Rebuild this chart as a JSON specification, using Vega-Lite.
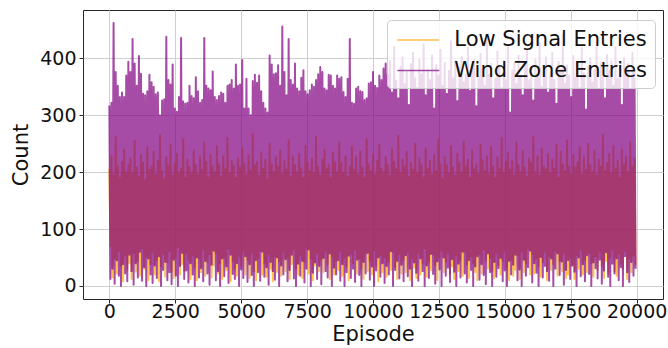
{
"$schema": "https://vega.github.io/schema/vega-lite/v6.json",
"width": 580, "height": 289,
"autosize": {"type": "none"},
"padding": {"left": 83, "top": 10, "right": 5, "bottom": 49},
"background": "white",
"config": {
  "font": "DejaVu Sans",
  "view": {"stroke": "#262626", "strokeWidth": 1},
  "axis": {"domain": false, "grid": true, "gridColor": "#cfcfcf", "gridWidth": 1, "tickColor": "#262626", "tickSize": 4, "tickWidth": 1, "labelColor": "#111111", "labelFont": "DejaVu Sans", "labelFontSize": 19, "titleFont": "DejaVu Sans", "titleFontSize": 21, "titleFontWeight": "normal", "titleColor": "#111111"}
},
"data": {"values": [
{"e":0,"l":205,"w":317},{"e":40,"l":70,"w":12},
{"e":80,"l":228,"w":322},{"e":120,"l":15,"w":30},
{"e":160,"l":195,"w":462},{"e":200,"l":48,"w":4},
{"e":240,"l":262,"w":376},{"e":280,"l":22,"w":45},
{"e":320,"l":210,"w":352},{"e":360,"l":62,"w":18},
{"e":400,"l":190,"w":332},{"e":440,"l":35,"w":0},
{"e":480,"l":218,"w":340},{"e":520,"l":8,"w":38},
{"e":560,"l":240,"w":332},{"e":600,"l":55,"w":22},
{"e":640,"l":200,"w":370},{"e":680,"l":28,"w":8},
{"e":720,"l":212,"w":394},{"e":760,"l":40,"w":55},
{"e":800,"l":225,"w":376},{"e":840,"l":12,"w":26},
{"e":880,"l":198,"w":434},{"e":920,"l":58,"w":2},
{"e":960,"l":255,"w":391},{"e":1000,"l":25,"w":40},
{"e":1040,"l":208,"w":352},{"e":1080,"l":44,"w":15},
{"e":1120,"l":192,"w":404},{"e":1160,"l":18,"w":60},
{"e":1200,"l":230,"w":373},{"e":1240,"l":66,"w":9},
{"e":1280,"l":216,"w":338},{"e":1320,"l":30,"w":33},
{"e":1360,"l":186,"w":335},{"e":1400,"l":52,"w":0},
{"e":1440,"l":244,"w":342},{"e":1480,"l":10,"w":48},
{"e":1520,"l":204,"w":371},{"e":1560,"l":38,"w":20},
{"e":1600,"l":210,"w":358},{"e":1640,"l":60,"w":5},
{"e":1680,"l":236,"w":350},{"e":1720,"l":20,"w":36},
{"e":1760,"l":196,"w":337},{"e":1800,"l":46,"w":14},
{"e":1840,"l":220,"w":340},{"e":1880,"l":8,"w":52},
{"e":1920,"l":265,"w":300},{"e":1960,"l":34,"w":0},
{"e":2000,"l":202,"w":326},{"e":2040,"l":56,"w":28},
{"e":2080,"l":188,"w":328},{"e":2120,"l":16,"w":42},
{"e":2160,"l":226,"w":438},{"e":2200,"l":42,"w":10},
{"e":2240,"l":212,"w":362},{"e":2280,"l":62,"w":24},
{"e":2320,"l":248,"w":354},{"e":2360,"l":25,"w":3},
{"e":2400,"l":194,"w":389},{"e":2440,"l":14,"w":46},
{"e":2480,"l":215,"w":312},{"e":2520,"l":50,"w":18},
{"e":2560,"l":232,"w":306},{"e":2600,"l":68,"w":0},
{"e":2640,"l":200,"w":332},{"e":2680,"l":20,"w":35},
{"e":2720,"l":206,"w":436},{"e":2760,"l":38,"w":58},
{"e":2800,"l":258,"w":324},{"e":2840,"l":26,"w":12},
{"e":2880,"l":190,"w":320},{"e":2920,"l":58,"w":27},
{"e":2960,"l":222,"w":322},{"e":3000,"l":45,"w":6},
{"e":3040,"l":209,"w":352},{"e":3080,"l":12,"w":40},
{"e":3120,"l":198,"w":334},{"e":3160,"l":54,"w":20},
{"e":3200,"l":238,"w":330},{"e":3240,"l":32,"w":0},
{"e":3280,"l":212,"w":367},{"e":3320,"l":10,"w":50},
{"e":3360,"l":195,"w":342},{"e":3400,"l":48,"w":15},
{"e":3440,"l":226,"w":322},{"e":3480,"l":24,"w":31},
{"e":3520,"l":204,"w":327},{"e":3560,"l":64,"w":8},
{"e":3600,"l":252,"w":436},{"e":3640,"l":18,"w":44},
{"e":3680,"l":218,"w":352},{"e":3720,"l":42,"w":22},
{"e":3760,"l":190,"w":347},{"e":3800,"l":56,"w":2},
{"e":3840,"l":230,"w":344},{"e":3880,"l":15,"w":37},
{"e":3920,"l":210,"w":377},{"e":3960,"l":36,"w":62},
{"e":4000,"l":200,"w":332},{"e":4040,"l":58,"w":10},
{"e":4080,"l":245,"w":327},{"e":4120,"l":22,"w":26},
{"e":4160,"l":214,"w":334},{"e":4200,"l":40,"w":0},
{"e":4240,"l":192,"w":340},{"e":4280,"l":12,"w":48},
{"e":4320,"l":228,"w":338},{"e":4360,"l":50,"w":17},
{"e":4400,"l":206,"w":322},{"e":4440,"l":28,"w":34},
{"e":4480,"l":260,"w":352},{"e":4520,"l":65,"w":5},
{"e":4560,"l":198,"w":354},{"e":4600,"l":8,"w":55},
{"e":4640,"l":220,"w":362},{"e":4680,"l":44,"w":21},
{"e":4720,"l":211,"w":347},{"e":4760,"l":30,"w":12},
{"e":4800,"l":190,"w":389},{"e":4840,"l":18,"w":40},
{"e":4880,"l":224,"w":352},{"e":4920,"l":52,"w":0},
{"e":4960,"l":208,"w":354},{"e":5000,"l":36,"w":29},
{"e":5040,"l":242,"w":397},{"e":5080,"l":60,"w":14},
{"e":5120,"l":215,"w":312},{"e":5160,"l":20,"w":52},
{"e":5200,"l":196,"w":364},{"e":5240,"l":46,"w":7},
{"e":5280,"l":230,"w":312},{"e":5320,"l":14,"w":38},
{"e":5360,"l":203,"w":300},{"e":5400,"l":58,"w":19},
{"e":5440,"l":268,"w":360},{"e":5480,"l":26,"w":0},
{"e":5520,"l":212,"w":371},{"e":5560,"l":10,"w":45},
{"e":5600,"l":218,"w":357},{"e":5640,"l":48,"w":24},
{"e":5680,"l":194,"w":370},{"e":5720,"l":62,"w":9},
{"e":5760,"l":235,"w":342},{"e":5800,"l":20,"w":60},
{"e":5840,"l":206,"w":322},{"e":5880,"l":40,"w":16},
{"e":5920,"l":222,"w":312},{"e":5960,"l":16,"w":33},
{"e":6000,"l":188,"w":305},{"e":6040,"l":56,"w":2},
{"e":6080,"l":250,"w":405},{"e":6120,"l":30,"w":42},
{"e":6160,"l":214,"w":389},{"e":6200,"l":8,"w":26},
{"e":6240,"l":200,"w":372},{"e":6280,"l":52,"w":11},
{"e":6320,"l":226,"w":374},{"e":6360,"l":24,"w":50},
{"e":6400,"l":210,"w":388},{"e":6440,"l":44,"w":0},
{"e":6480,"l":238,"w":352},{"e":6520,"l":18,"w":36},
{"e":6560,"l":196,"w":456},{"e":6600,"l":60,"w":20},
{"e":6640,"l":219,"w":376},{"e":6680,"l":26,"w":47},
{"e":6720,"l":205,"w":335},{"e":6760,"l":50,"w":8},
{"e":6800,"l":256,"w":434},{"e":6840,"l":12,"w":28},
{"e":6880,"l":192,"w":362},{"e":6920,"l":38,"w":55},
{"e":6960,"l":228,"w":354},{"e":7000,"l":64,"w":13},
{"e":7040,"l":212,"w":391},{"e":7080,"l":30,"w":0},
{"e":7120,"l":200,"w":347},{"e":7160,"l":20,"w":39},
{"e":7200,"l":232,"w":342},{"e":7240,"l":55,"w":18},
{"e":7280,"l":207,"w":366},{"e":7320,"l":14,"w":44},
{"e":7360,"l":190,"w":379},{"e":7400,"l":42,"w":6},
{"e":7440,"l":246,"w":342},{"e":7480,"l":66,"w":30},
{"e":7520,"l":216,"w":337},{"e":7560,"l":22,"w":64},
{"e":7600,"l":202,"w":344},{"e":7640,"l":48,"w":0},
{"e":7680,"l":224,"w":354},{"e":7720,"l":10,"w":23},
{"e":7760,"l":198,"w":350},{"e":7800,"l":36,"w":41},
{"e":7840,"l":262,"w":362},{"e":7880,"l":58,"w":12},
{"e":7920,"l":209,"w":372},{"e":7960,"l":26,"w":35},
{"e":8000,"l":195,"w":385},{"e":8040,"l":46,"w":3},
{"e":8080,"l":222,"w":376},{"e":8120,"l":24,"w":49},
{"e":8160,"l":240,"w":347},{"e":8200,"l":60,"w":26},
{"e":8240,"l":206,"w":344},{"e":8280,"l":38,"w":15},
{"e":8320,"l":213,"w":371},{"e":8360,"l":12,"w":57},
{"e":8400,"l":190,"w":370},{"e":8440,"l":52,"w":0},
{"e":8480,"l":234,"w":352},{"e":8520,"l":20,"w":32},
{"e":8560,"l":218,"w":347},{"e":8600,"l":44,"w":20},
{"e":8640,"l":200,"w":370},{"e":8680,"l":28,"w":45},
{"e":8720,"l":252,"w":364},{"e":8760,"l":62,"w":9},
{"e":8800,"l":215,"w":367},{"e":8840,"l":18,"w":38},
{"e":8880,"l":198,"w":341},{"e":8920,"l":50,"w":0},
{"e":8960,"l":228,"w":332},{"e":9000,"l":34,"w":24},
{"e":9040,"l":192,"w":364},{"e":9080,"l":10,"w":53},
{"e":9120,"l":210,"w":434},{"e":9160,"l":56,"w":14},
{"e":9200,"l":244,"w":322},{"e":9240,"l":40,"w":30},
{"e":9280,"l":204,"w":320},{"e":9320,"l":64,"w":7},
{"e":9360,"l":226,"w":347},{"e":9400,"l":22,"w":46},
{"e":9440,"l":196,"w":350},{"e":9480,"l":48,"w":19},
{"e":9520,"l":236,"w":342},{"e":9560,"l":30,"w":0},
{"e":9600,"l":208,"w":341},{"e":9640,"l":12,"w":42},
{"e":9680,"l":190,"w":327},{"e":9720,"l":58,"w":22},
{"e":9760,"l":258,"w":330},{"e":9800,"l":26,"w":58},
{"e":9840,"l":214,"w":356},{"e":9880,"l":44,"w":11},
{"e":9920,"l":202,"w":358},{"e":9960,"l":20,"w":34},
{"e":10000,"l":230,"w":376},{"e":10040,"l":62,"w":0},
{"e":10080,"l":196,"w":352},{"e":10120,"l":36,"w":27},
{"e":10160,"l":220,"w":348},{"e":10200,"l":8,"w":50},
{"e":10240,"l":248,"w":370},{"e":10280,"l":54,"w":16},
{"e":10320,"l":206,"w":362},{"e":10360,"l":24,"w":40},
{"e":10400,"l":200,"w":382},{"e":10440,"l":50,"w":5},
{"e":10480,"l":226,"w":391},{"e":10520,"l":16,"w":35},
{"e":10560,"l":212,"w":372},{"e":10600,"l":42,"w":20},
{"e":10640,"l":194,"w":395},{"e":10680,"l":28,"w":61},
{"e":10720,"l":240,"w":340},{"e":10760,"l":60,"w":0},
{"e":10800,"l":218,"w":420},{"e":10840,"l":34,"w":28},
{"e":10880,"l":205,"w":361},{"e":10920,"l":12,"w":44},
{"e":10960,"l":264,"w":330},{"e":11000,"l":56,"w":13},
{"e":11040,"l":198,"w":385},{"e":11080,"l":22,"w":37},
{"e":11120,"l":222,"w":402},{"e":11160,"l":46,"w":8},
{"e":11200,"l":210,"w":355},{"e":11240,"l":24,"w":54},
{"e":11280,"l":236,"w":376},{"e":11320,"l":60,"w":17},
{"e":11360,"l":192,"w":318},{"e":11400,"l":10,"w":30},
{"e":11440,"l":216,"w":390},{"e":11480,"l":48,"w":0},
{"e":11520,"l":204,"w":410},{"e":11560,"l":32,"w":41},
{"e":11600,"l":250,"w":365},{"e":11640,"l":14,"w":23},
{"e":11680,"l":198,"w":348},{"e":11720,"l":58,"w":9},
{"e":11760,"l":224,"w":398},{"e":11800,"l":20,"w":48},
{"e":11840,"l":212,"w":372},{"e":11880,"l":40,"w":26},
{"e":11920,"l":190,"w":425},{"e":11960,"l":66,"w":0},
{"e":12000,"l":242,"w":335},{"e":12040,"l":16,"w":36},
{"e":12080,"l":206,"w":380},{"e":12120,"l":44,"w":14},
{"e":12160,"l":220,"w":362},{"e":12200,"l":28,"w":56},
{"e":12240,"l":196,"w":405},{"e":12280,"l":56,"w":21},
{"e":12320,"l":230,"w":312},{"e":12360,"l":36,"w":4},
{"e":12400,"l":202,"w":388},{"e":12440,"l":10,"w":43},
{"e":12480,"l":258,"w":370},{"e":12520,"l":50,"w":29},
{"e":12560,"l":214,"w":415},{"e":12600,"l":62,"w":0},
{"e":12640,"l":188,"w":352},{"e":12680,"l":24,"w":50},
{"e":12720,"l":226,"w":392},{"e":12760,"l":42,"w":18},
{"e":12800,"l":212,"w":338},{"e":12840,"l":58,"w":32},
{"e":12880,"l":198,"w":378},{"e":12920,"l":20,"w":7},
{"e":12960,"l":246,"w":430},{"e":13000,"l":34,"w":47},
{"e":13040,"l":208,"w":365},{"e":13080,"l":12,"w":25},
{"e":13120,"l":194,"w":395},{"e":13160,"l":54,"w":0},
{"e":13200,"l":232,"w":325},{"e":13240,"l":26,"w":39},
{"e":13280,"l":216,"w":383},{"e":13320,"l":46,"w":15},
{"e":13360,"l":200,"w":403},{"e":13400,"l":18,"w":60},
{"e":13440,"l":254,"w":358},{"e":13480,"l":60,"w":22},
{"e":13520,"l":210,"w":372},{"e":13560,"l":38,"w":6},
{"e":13600,"l":222,"w":418},{"e":13640,"l":14,"w":45},
{"e":13680,"l":190,"w":343},{"e":13720,"l":52,"w":28},
{"e":13760,"l":238,"w":386},{"e":13800,"l":40,"w":0},
{"e":13840,"l":205,"w":398},{"e":13880,"l":24,"w":34},
{"e":13920,"l":214,"w":316},{"e":13960,"l":10,"w":52},
{"e":14000,"l":196,"w":368},{"e":14040,"l":56,"w":11},
{"e":14080,"l":248,"w":408},{"e":14120,"l":22,"w":38},
{"e":14160,"l":220,"w":380},{"e":14200,"l":64,"w":19},
{"e":14240,"l":202,"w":352},{"e":14280,"l":44,"w":3},
{"e":14320,"l":228,"w":436},{"e":14360,"l":30,"w":57},
{"e":14400,"l":196,"w":372},{"e":14440,"l":50,"w":24},
{"e":14480,"l":244,"w":390},{"e":14520,"l":26,"w":0},
{"e":14560,"l":210,"w":330},{"e":14600,"l":14,"w":42},
{"e":14640,"l":190,"w":365},{"e":14680,"l":58,"w":16},
{"e":14720,"l":226,"w":412},{"e":14760,"l":36,"w":31},
{"e":14800,"l":206,"w":384},{"e":14840,"l":20,"w":49},
{"e":14880,"l":260,"w":348},{"e":14920,"l":44,"w":8},
{"e":14960,"l":198,"w":396},{"e":15000,"l":62,"w":27},
{"e":15040,"l":218,"w":362},{"e":15080,"l":32,"w":0},
{"e":15120,"l":234,"w":422},{"e":15160,"l":10,"w":44},
{"e":15200,"l":204,"w":305},{"e":15240,"l":46,"w":20},
{"e":15280,"l":220,"w":378},{"e":15320,"l":18,"w":37},
{"e":15360,"l":194,"w":392},{"e":15400,"l":28,"w":55},
{"e":15440,"l":252,"w":355},{"e":15480,"l":54,"w":10},
{"e":15520,"l":212,"w":405},{"e":15560,"l":12,"w":29},
{"e":15600,"l":200,"w":370},{"e":15640,"l":60,"w":0},
{"e":15680,"l":238,"w":335},{"e":15720,"l":24,"w":46},
{"e":15760,"l":208,"w":388},{"e":15800,"l":40,"w":18},
{"e":15840,"l":192,"w":415},{"e":15880,"l":66,"w":33},
{"e":15920,"l":224,"w":360},{"e":15960,"l":20,"w":62},
{"e":16000,"l":216,"w":382},{"e":16040,"l":56,"w":6},
{"e":16080,"l":262,"w":326},{"e":16120,"l":22,"w":40},
{"e":16160,"l":200,"w":398},{"e":16200,"l":48,"w":23},
{"e":16240,"l":228,"w":372},{"e":16280,"l":34,"w":0},
{"e":16320,"l":194,"w":428},{"e":16360,"l":16,"w":51},
{"e":16400,"l":242,"w":350},{"e":16440,"l":42,"w":15},
{"e":16480,"l":210,"w":384},{"e":16520,"l":60,"w":35},
{"e":16560,"l":205,"w":402},{"e":16600,"l":10,"w":26},
{"e":16640,"l":232,"w":340},{"e":16680,"l":52,"w":9},
{"e":16720,"l":198,"w":376},{"e":16760,"l":28,"w":48},
{"e":16800,"l":222,"w":410},{"e":16840,"l":38,"w":0},
{"e":16880,"l":206,"w":362},{"e":16920,"l":62,"w":30},
{"e":16960,"l":248,"w":320},{"e":17000,"l":18,"w":57},
{"e":17040,"l":190,"w":394},{"e":17080,"l":44,"w":19},
{"e":17120,"l":236,"w":380},{"e":17160,"l":26,"w":43},
{"e":17200,"l":214,"w":442},{"e":17240,"l":58,"w":2},
{"e":17280,"l":202,"w":356},{"e":17320,"l":14,"w":28},
{"e":17360,"l":256,"w":388},{"e":17400,"l":20,"w":45},
{"e":17440,"l":210,"w":370},{"e":17480,"l":50,"w":12},
{"e":17520,"l":196,"w":332},{"e":17560,"l":36,"w":36},
{"e":17600,"l":230,"w":404},{"e":17640,"l":12,"w":25},
{"e":17680,"l":208,"w":366},{"e":17720,"l":54,"w":0},
{"e":17760,"l":218,"w":390},{"e":17800,"l":30,"w":50},
{"e":17840,"l":244,"w":348},{"e":17880,"l":64,"w":17},
{"e":17920,"l":196,"w":418},{"e":17960,"l":20,"w":38},
{"e":18000,"l":226,"w":374},{"e":18040,"l":46,"w":8},
{"e":18080,"l":204,"w":310},{"e":18120,"l":24,"w":54},
{"e":18160,"l":250,"w":386},{"e":18200,"l":58,"w":21},
{"e":18240,"l":212,"w":400},{"e":18280,"l":40,"w":0},
{"e":18320,"l":200,"w":358},{"e":18360,"l":16,"w":41},
{"e":18400,"l":238,"w":380},{"e":18440,"l":52,"w":31},
{"e":18480,"l":194,"w":426},{"e":18520,"l":28,"w":13},
{"e":18560,"l":222,"w":345},{"e":18600,"l":60,"w":46},
{"e":18640,"l":210,"w":392},{"e":18680,"l":36,"w":4},
{"e":18720,"l":266,"w":368},{"e":18760,"l":14,"w":27},
{"e":18800,"l":202,"w":330},{"e":18840,"l":44,"w":59},
{"e":18880,"l":216,"w":406},{"e":18920,"l":22,"w":16},
{"e":18960,"l":232,"w":378},{"e":19000,"l":50,"w":0},
{"e":19040,"l":198,"w":395},{"e":19080,"l":64,"w":39},
{"e":19120,"l":246,"w":352},{"e":19160,"l":26,"w":22},
{"e":19200,"l":206,"w":420},{"e":19240,"l":18,"w":48},
{"e":19280,"l":220,"w":364},{"e":19320,"l":56,"w":10},
{"e":19360,"l":190,"w":386},{"e":19400,"l":40,"w":33},
{"e":19440,"l":240,"w":318},{"e":19480,"l":30,"w":0},
{"e":19520,"l":214,"w":400},{"e":19560,"l":62,"w":52},
{"e":19600,"l":228,"w":372},{"e":19640,"l":12,"w":24},
{"e":19680,"l":200,"w":390},{"e":19720,"l":48,"w":7},
{"e":19760,"l":252,"w":345},{"e":19800,"l":24,"w":42},
{"e":19840,"l":210,"w":410},{"e":19880,"l":54,"w":18},
{"e":19920,"l":224,"w":375},{"e":19960,"l":36,"w":30}
]},
"layer": [
  {
    "mark": {"type": "line", "strokeWidth": 2.0, "opacity": 0.7, "strokeJoin": "round"},
    "encoding": {
      "x": {"field": "e", "type": "quantitative", "scale": {"domain": [-1000, 21000], "nice": false, "zero": false},
            "axis": {"values": [0, 2500, 5000, 7500, 10000, 12500, 15000, 17500, 20000], "format": "d", "title": "Episode", "labelPadding": -1, "titlePadding": 2, "labelFlush": false}},
      "y": {"field": "l", "type": "quantitative", "scale": {"domain": [-23, 485], "nice": false, "zero": false},
            "axis": {"values": [0, 100, 200, 300, 400], "title": "Count", "labelPadding": 3, "titlePadding": 8}},
      "color": {"datum": "Low Signal Entries", "type": "nominal",
                "scale": {"domain": ["Low Signal Entries", "Wind Zone Entries"], "range": ["#FFA500", "#800080"]},
                "legend": {"orient": "none", "legendX": 304, "legendY": 10, "title": null, "symbolType": "M-1.75,0H1.75", "symbolSize": 576, "symbolOffset": 11.3, "symbolStrokeWidth": 1.5, "symbolOpacity": 0.7, "labelFontSize": 21, "labelFont": "DejaVu Sans", "labelColor": "#111111", "labelOffset": 23, "labelLimit": 0, "rowPadding": 7.5, "padding": 7, "fillColor": "rgba(255,255,255,0.8)", "strokeColor": "#cccccc", "cornerRadius": 4}}
    }
  },
  {
    "mark": {"type": "line", "strokeWidth": 2.0, "opacity": 0.7, "strokeJoin": "round"},
    "encoding": {
      "x": {"field": "e", "type": "quantitative"},
      "y": {"field": "w", "type": "quantitative"},
      "color": {"datum": "Wind Zone Entries", "type": "nominal"}
    }
  }
]
}
